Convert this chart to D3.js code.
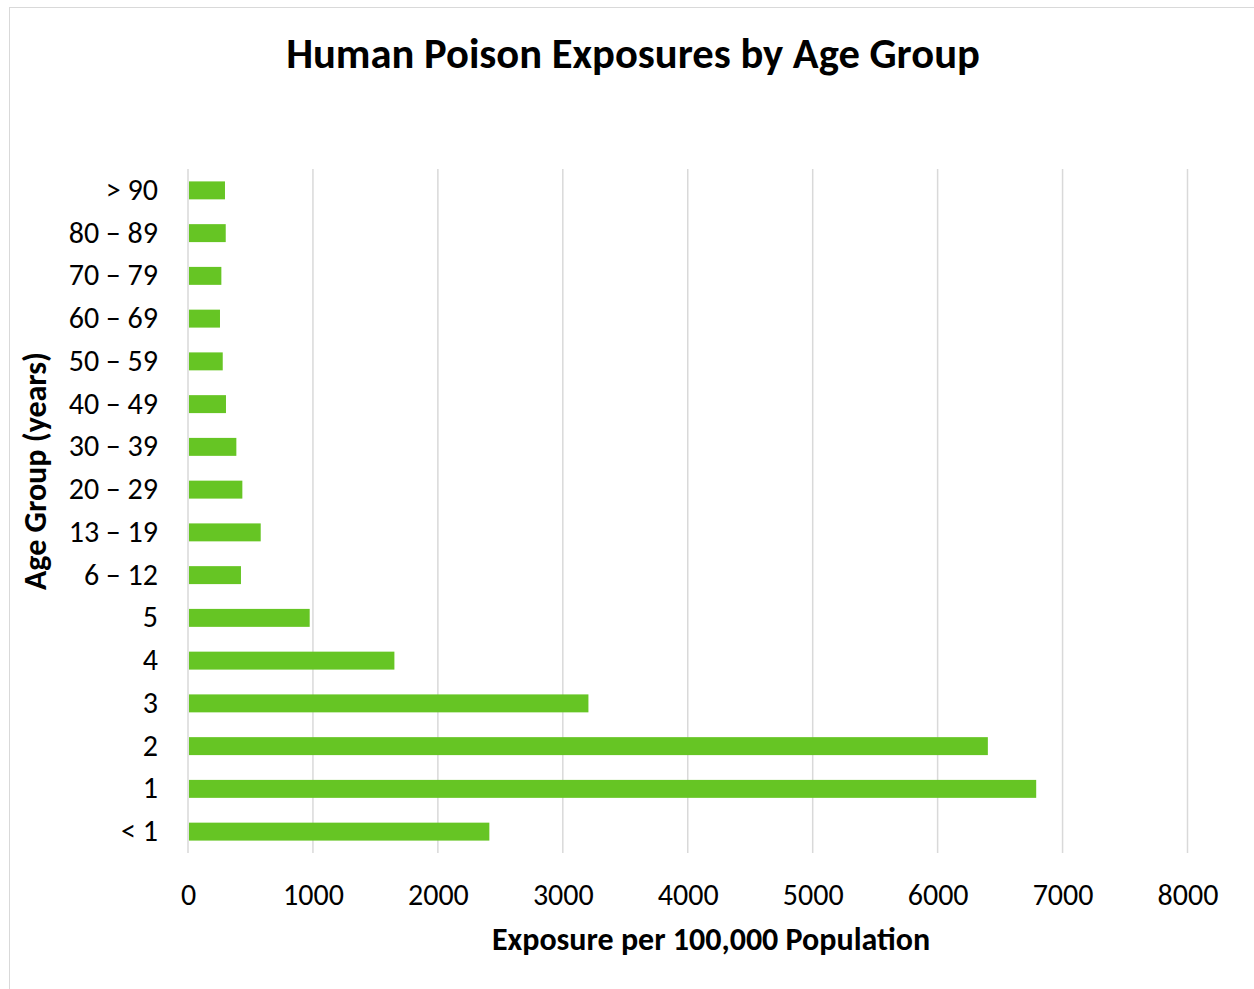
<!DOCTYPE html>
<html>
<head>
<meta charset="utf-8">
<script src="https://cdn.jsdelivr.net/npm/d3@7"></script>
<style>
  html, body { margin: 0; padding: 0; background: #fff; }
  svg { display: block; font-family: Carlito, Calibri, Lato, "Open Sans", sans-serif; }
</style>
</head>
<body>
<svg id="chart" width="1254" height="989"></svg>
<script>
// Age groups, top to bottom
const ageGroups = ["> 90", "80 – 89", "70 – 79", "60 – 69", "50 – 59", "40 – 49",
  "30 – 39", "20 – 29", "13 – 19", "6 – 12", "5", "4", "3", "2", "1", "< 1"];
// Exposures per 100,000 population
const exposures = [296, 302, 267, 256, 278, 304, 387, 435, 582, 424, 974, 1652, 3205, 6402, 6789, 2412];
const xTicks = [0, 1000, 2000, 3000, 4000, 5000, 6000, 7000, 8000];

const svg = d3.select("#chart");
const W = 1254, H = 989;
const plot = { left: 188, right: 1187.5, top: 169, bottom: 853 };

// Chart frame
svg.append("rect")
  .attr("x", 9.5).attr("y", 7.5)
  .attr("width", W + 10).attr("height", H + 10)
  .attr("fill", "#fff").attr("stroke", "#d9d9d9").attr("stroke-width", 1);

const x = d3.scaleLinear().domain([0, 8000]).range([plot.left, plot.right]);
const y = d3.scaleBand().domain(ageGroups).range([plot.top, plot.bottom]).paddingInner(0.58).paddingOuter(0.29);

// Vertical gridlines
svg.append("g").selectAll("line").data(xTicks).join("line")
  .attr("x1", d => x(d)).attr("x2", d => x(d))
  .attr("y1", plot.top).attr("y2", plot.bottom)
  .attr("stroke", "#d9d9d9").attr("stroke-width", 1.5);

// Bars
svg.append("g").selectAll("rect").data(ageGroups).join("rect")
  .attr("x", x(0) + 1)
  .attr("y", d => y(d))
  .attr("width", (d, i) => x(exposures[i]) - x(0) - 1)
  .attr("height", y.bandwidth())
  .attr("fill", "#66c524");

// X axis labels
const xAxis = d3.axisBottom(x).tickValues(xTicks).tickSize(0).tickPadding(0).tickFormat(d3.format("d"));
const gx = svg.append("g").attr("transform", `translate(0, ${plot.bottom + 41})`).call(xAxis)
  .attr("font-family", null).attr("font-size", null);
gx.select(".domain").remove();
gx.selectAll("text").attr("font-size", 30).attr("fill", "#000").attr("dy", "0.35em");

// Y axis labels
const yAxis = d3.axisLeft(y).tickSize(0).tickPadding(0);
const gy = svg.append("g").attr("transform", `translate(${plot.left - 30}, 0)`).call(yAxis)
  .attr("font-family", null).attr("font-size", null);
gy.select(".domain").remove();
gy.selectAll("text").attr("font-size", 30).attr("fill", "#000");

// Title
svg.append("text")
  .attr("x", 633).attr("y", 68)
  .attr("text-anchor", "middle")
  .attr("font-size", 42.6).attr("font-weight", "bold").attr("fill", "#000")
  .text("Human Poison Exposures by Age Group");

// Axis titles
svg.append("text")
  .attr("x", 711).attr("y", 950)
  .attr("text-anchor", "middle")
  .attr("font-size", 32).attr("font-weight", "bold").attr("fill", "#000")
  .text("Exposure per 100,000 Population");

svg.append("text")
  .attr("transform", "translate(46, 471) rotate(-90)")
  .attr("text-anchor", "middle")
  .attr("font-size", 32).attr("font-weight", "bold").attr("fill", "#000")
  .text("Age Group (years)");
</script>
</body>
</html>
